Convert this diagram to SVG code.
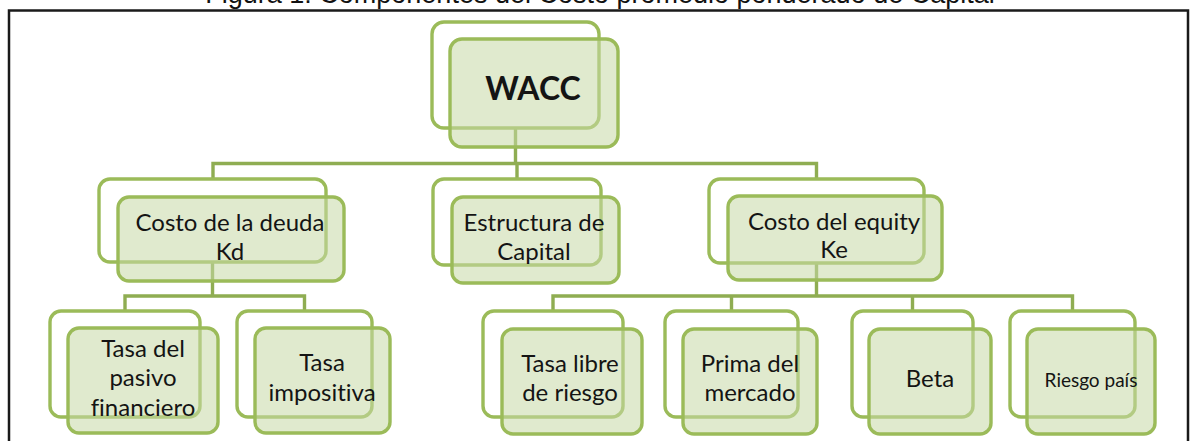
<svg xmlns="http://www.w3.org/2000/svg" width="1191" height="441" viewBox="0 0 1191 441">
<style>
.frame{fill:none;stroke:#1a1a1a;stroke-width:2.5}
.back{fill:#ffffff;stroke:#9BBB59;stroke-width:3.4}
.front{fill:#C7D9A6;fill-opacity:0.55;stroke:#9BBB59;stroke-width:3.4}
.conn{fill:none;stroke:#8FAD52;stroke-width:3.4}
.t{font-family:Lato,"Open Sans","Liberation Sans",sans-serif;font-size:24px;fill:#141414;text-anchor:middle;font-variant-ligatures:none}
.title{font-family:"Liberation Sans",Arial,sans-serif;font-size:27px;fill:#111;text-anchor:middle}
</style>
<rect width="1191" height="441" fill="#ffffff"/>
<text class="title" x="600" y="3">Figura 1: Componentes del Costo promedio ponderado de Capital</text>
<path class="frame" d="M9,445 V10.5 H1188 V445"/>
<g id="connectors">
<path class="conn" d="M515.5,128 V163.5 M213,179 V163.5 H816.5 V179 M517,163.5 V179"/>
<path class="conn" d="M212.5,262 V296 M125,311 V296 H304.5 V311"/>
<path class="conn" d="M816.5,263 V296 M553,311 V296 H1072.5 V311 M731.5,296 V311 M912.5,296 V311"/>
</g>
<g id="wacc">
<rect class="back" x="432" y="22" width="167" height="106" rx="12"/>
<rect class="front" x="450" y="39" width="168" height="108" rx="12"/>
<text class="t" x="533" y="100" style="font-size:32px;font-weight:bold">WACC</text>
</g>
<g id="costo-deuda">
<rect class="back" x="99" y="179" width="227" height="83" rx="11"/>
<rect class="front" x="118" y="197" width="226" height="84" rx="11"/>
<text class="t" x="230" y="231">Costo de la deuda</text>
<text class="t" x="230" y="260">Kd</text>
</g>
<g id="estructura">
<rect class="back" x="433" y="179" width="168" height="86" rx="11"/>
<rect class="front" x="452" y="197" width="167" height="86" rx="11"/>
<text class="t" x="534" y="231">Estructura de</text>
<text class="t" x="534" y="260">Capital</text>
</g>
<g id="costo-equity">
<rect class="back" x="709" y="179" width="215" height="84" rx="11"/>
<rect class="front" x="728" y="196" width="214" height="84" rx="11"/>
<text class="t" x="834" y="230">Costo del equity</text>
<text class="t" x="834" y="258">Ke</text>
</g>
<g id="tasa-pasivo">
<rect class="back" x="50" y="311" width="150" height="106" rx="11"/>
<rect class="front" x="68" y="328" width="150" height="105" rx="11"/>
<text class="t" x="143" y="357">Tasa del</text>
<text class="t" x="143" y="386">pasivo</text>
<text class="t" x="143" y="416">financiero</text>
</g>
<g id="tasa-impositiva">
<rect class="back" x="237" y="311" width="135" height="106" rx="11"/>
<rect class="front" x="255" y="328" width="135" height="105" rx="11"/>
<text class="t" x="322" y="371">Tasa</text>
<text class="t" x="322" y="401">impositiva</text>
</g>
<g id="tasa-libre">
<rect class="back" x="483" y="311" width="140" height="106" rx="11"/>
<rect class="front" x="502" y="329" width="140" height="105" rx="11"/>
<text class="t" x="570" y="372">Tasa libre</text>
<text class="t" x="570" y="401">de riesgo</text>
</g>
<g id="prima">
<rect class="back" x="665" y="311" width="133" height="106" rx="11"/>
<rect class="front" x="683" y="329" width="134" height="105" rx="11"/>
<text class="t" x="750" y="372">Prima del</text>
<text class="t" x="750" y="401">mercado</text>
</g>
<g id="beta">
<rect class="back" x="852" y="311" width="121" height="106" rx="11"/>
<rect class="front" x="869" y="329" width="122" height="105" rx="11"/>
<text class="t" x="930" y="387">Beta</text>
</g>
<g id="riesgo-pais">
<rect class="back" x="1010" y="311" width="125" height="106" rx="11"/>
<rect class="front" x="1027" y="329" width="128" height="105" rx="11"/>
<text class="t" x="1091" y="387" style="font-size:19px">Riesgo país</text>
</g>
</svg>
